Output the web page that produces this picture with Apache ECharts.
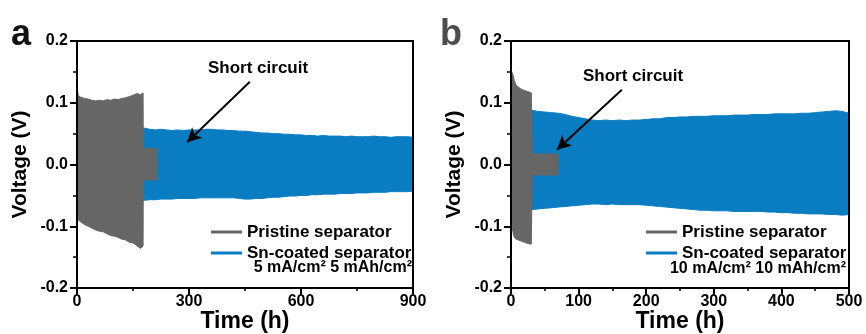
<!DOCTYPE html>
<html>
<head>
<meta charset="utf-8">
<script src="https://cdn.jsdelivr.net/npm/echarts@6/dist/echarts.min.js"></script>
<style>
  html, body { margin: 0; padding: 0; background: #fff; }
  #chart { width: 866px; height: 334px; }
</style>
</head>
<body>
<div id="chart"></div>
<script>
// panel a : 5 mA/cm2, 900 h
let timeSnA = [0, 15, 30, 45, 60, 75, 90, 105, 120, 135, 150, 165, 180, 195, 210, 225, 240, 255, 270, 285, 300,
  315, 330, 345, 360, 375, 390, 405, 420, 435, 450, 465, 480, 495, 510, 525, 540, 555, 570, 585, 600,
  615, 630, 645, 660, 675, 690, 705, 720, 735, 750, 765, 780, 795, 810, 825, 840, 855, 870, 885, 900];
let snUpperA = [0.062, 0.061, 0.060, 0.061, 0.060, 0.060, 0.061, 0.060, 0.060, 0.059, 0.060, 0.059, 0.059, 0.057, 0.056, 0.057, 0.056, 0.055, 0.056, 0.055, 0.056,
  0.056, 0.056, 0.057, 0.057, 0.056, 0.056, 0.055, 0.055, 0.054, 0.054, 0.053, 0.052, 0.051, 0.051, 0.050, 0.050, 0.049, 0.049, 0.048, 0.048,
  0.047, 0.047, 0.046, 0.047, 0.046, 0.046, 0.046, 0.045, 0.046, 0.045, 0.045, 0.045, 0.046, 0.045, 0.045, 0.044, 0.045, 0.045, 0.045, 0.044];
let snLowerA = [-0.060, -0.060, -0.060, -0.060, -0.060, -0.060, -0.060, -0.060, -0.060, -0.060, -0.060, -0.060, -0.058, -0.057, -0.057, -0.056, -0.056, -0.056, -0.055, -0.055, -0.055,
  -0.055, -0.054, -0.054, -0.054, -0.054, -0.054, -0.054, -0.054, -0.055, -0.056, -0.056, -0.055, -0.055, -0.054, -0.053, -0.053, -0.052, -0.051, -0.051, -0.050,
  -0.050, -0.049, -0.049, -0.048, -0.048, -0.048, -0.047, -0.047, -0.047, -0.046, -0.046, -0.046, -0.045, -0.045, -0.045, -0.044, -0.044, -0.044, -0.044, -0.043];
let timePrA = [0, 3, 10, 20, 30, 40, 50, 60, 70, 80, 90, 100, 110, 120, 130, 140, 150, 160, 170, 177, 177.5, 215];
let prUpperA = [0.130, 0.112, 0.109, 0.107, 0.106, 0.104, 0.103, 0.104, 0.103, 0.105, 0.104, 0.106, 0.105, 0.107, 0.108, 0.110, 0.112, 0.115, 0.113, 0.116, 0.026, 0.026];
let prLowerA = [-0.088, -0.090, -0.093, -0.097, -0.100, -0.103, -0.106, -0.108, -0.109, -0.112, -0.115, -0.116, -0.118, -0.121, -0.122, -0.126, -0.127, -0.131, -0.136, -0.132, -0.025, -0.025];

// panel b : 10 mA/cm2, 500 h
let timeSnB = [0, 10, 20, 30, 40, 50, 60, 70, 80, 90, 100, 110, 120, 130, 140, 150, 160, 170, 180, 190, 200,
  210, 220, 230, 240, 250, 260, 270, 280, 290, 300, 310, 320, 330, 340, 350, 360, 370, 380, 390, 400,
  410, 420, 430, 440, 450, 460, 470, 480, 490, 500];
let snUpperB = [0.090, 0.090, 0.089, 0.088, 0.086, 0.085, 0.084, 0.083, 0.081, 0.078, 0.076, 0.074, 0.072, 0.071, 0.072, 0.071, 0.072, 0.071, 0.072, 0.072, 0.073,
  0.074, 0.074, 0.076, 0.076, 0.077, 0.077, 0.078, 0.078, 0.078, 0.079, 0.079, 0.079, 0.080, 0.080, 0.080, 0.081, 0.081, 0.081, 0.082, 0.082,
  0.082, 0.082, 0.083, 0.083, 0.084, 0.085, 0.086, 0.087, 0.086, 0.083];
let snLowerB = [-0.075, -0.075, -0.074, -0.073, -0.072, -0.071, -0.070, -0.069, -0.068, -0.067, -0.066, -0.065, -0.064, -0.064, -0.065, -0.064, -0.065, -0.065, -0.065, -0.065, -0.066,
  -0.067, -0.068, -0.069, -0.070, -0.071, -0.072, -0.073, -0.074, -0.074, -0.075, -0.075, -0.075, -0.076, -0.076, -0.076, -0.076, -0.076, -0.077, -0.077, -0.078,
  -0.078, -0.079, -0.079, -0.080, -0.080, -0.080, -0.081, -0.081, -0.082, -0.081];
let timePrB = [0, 1, 3, 5, 8, 10, 15, 20, 25, 30, 31, 31.5, 70];
let prUpperB = [0.155, 0.150, 0.145, 0.135, 0.128, 0.125, 0.122, 0.120, 0.118, 0.116, 0.115, 0.017, 0.017];
let prLowerB = [-0.090, -0.095, -0.110, -0.118, -0.121, -0.122, -0.124, -0.126, -0.128, -0.129, -0.129, -0.017, -0.017];

// arrows "Short circuit" : [from, to] in data coords
let arrowA = [[463, 0.134], [295, 0.036]];
let arrowB = [[164, 0.121], [68, 0.024]];

let xMax = [900, 500];
let xStep = [300, 100];

const FONT = 'Arial, "Liberation Sans", sans-serif';
const GRAY = '#666666';
const BLUE = '#0a7dc2';

function pairs(xs, ys) {
  return xs.map((t, i) => [t, ys[i]]);
}

// upper and lower halves overlap a little around 0 so no seam shows
function areaSeries(name, color, idx, data, z, origin) {
  return {
    name: name,
    type: 'line',
    xAxisIndex: idx,
    yAxisIndex: idx,
    data: data,
    symbol: 'none',
    z: z,
    lineStyle: { color: color, width: 1 },
    itemStyle: { color: color },
    areaStyle: { color: color, opacity: 1, origin: origin },
  };
}

function arrowLine(arr) {
  return {
    silent: true,
    symbol: ['none', 'arrow'],
    symbolSize: [11, 14],
    label: { show: false },
    lineStyle: { color: '#000', width: 2, type: 'solid' },
    data: [[{ coord: arr[0] }, { coord: arr[1] }]],
  };
}

let myChart = echarts.init(document.getElementById('chart'));

let xAxes = [];
let yAxes = [];
[0, 1].forEach((g) => {
  xAxes.push({
    gridIndex: g,
    type: 'value',
    min: 0,
    max: xMax[g],
    interval: xStep[g],
    name: 'Time (h)',
    nameLocation: 'middle',
    nameGap: 22,
    nameMoveOverlap: false,
    nameTextStyle: { fontSize: 23, fontWeight: 'bold', color: '#000', fontFamily: FONT },
    axisLine: { onZero: false, lineStyle: { color: '#000', width: 2 } },
    axisTick: { inside: false, length: 6, lineStyle: { color: '#000', width: 2 } },
    minorTick: { show: true, splitNumber: 2, length: 3, lineStyle: { color: '#000', width: 1.5 } },
    splitLine: { show: false },
    axisLabel: { fontSize: 16, fontWeight: 'bold', color: '#000', fontFamily: FONT, margin: 6 },
    z: 10,
  });
  yAxes.push({
    gridIndex: g,
    type: 'value',
    min: -0.2,
    max: 0.2,
    interval: 0.1,
    name: 'Voltage (V)',
    nameLocation: 'middle',
    nameGap: 46,
    nameMoveOverlap: false,
    nameTextStyle: { fontSize: 21, fontWeight: 'bold', color: '#000', fontFamily: FONT },
    axisLine: { onZero: false, lineStyle: { color: '#000', width: 2 } },
    axisTick: { inside: false, length: 7, lineStyle: { color: '#000', width: 2 } },
    minorTick: { show: true, splitNumber: 2, length: 4, lineStyle: { color: '#000', width: 1.5 } },
    splitLine: { show: false },
    axisLabel: {
      fontSize: 16, fontWeight: 'bold', color: '#000', fontFamily: FONT, margin: 9,
      formatter: (v) => (Math.abs(v) < 1e-9 ? '0.0' : v.toFixed(1)),
    },
    z: 10,
  });
});
// frame lines on top and right
[0, 1].forEach((g) => {
  xAxes.push({
    gridIndex: g, type: 'value', position: 'top', min: 0, max: xMax[g],
    axisLine: { onZero: false, lineStyle: { color: '#000', width: 2 } },
    axisTick: { show: false }, axisLabel: { show: false }, splitLine: { show: false }, z: 10,
  });
  yAxes.push({
    gridIndex: g, type: 'value', position: 'right', min: -0.2, max: 0.2,
    axisLine: { onZero: false, lineStyle: { color: '#000', width: 2 } },
    axisTick: { show: false }, axisLabel: { show: false }, splitLine: { show: false }, z: 10,
  });
});

let series = [
  areaSeries('Sn-coated separator', BLUE, 0, pairs(timeSnA, snUpperA), 2, -0.01),
  areaSeries('Sn-coated separator', BLUE, 0, pairs(timeSnA, snLowerA), 2, 0.01),
  areaSeries('Pristine separator', GRAY, 0, pairs(timePrA, prUpperA), 3, -0.01),
  areaSeries('Pristine separator', GRAY, 0, pairs(timePrA, prLowerA), 3, 0.01),
  areaSeries('Sn-coated separator', BLUE, 1, pairs(timeSnB, snUpperB), 2, -0.01),
  areaSeries('Sn-coated separator', BLUE, 1, pairs(timeSnB, snLowerB), 2, 0.01),
  areaSeries('Pristine separator', GRAY, 1, pairs(timePrB, prUpperB), 3, -0.01),
  areaSeries('Pristine separator', GRAY, 1, pairs(timePrB, prLowerB), 3, 0.01),
];
series[3].markLine = arrowLine(arrowA);
series[7].markLine = arrowLine(arrowB);

function legendAt(left) {
  return {
    orient: 'vertical',
    left: left,
    top: 218,
    icon: 'rect',
    itemWidth: 31,
    itemHeight: 3,
    itemGap: 3,
    selectedMode: false,
    data: ['Pristine separator', 'Sn-coated separator'],
    textStyle: { fontSize: 17, fontWeight: 'bold', color: '#000', fontFamily: FONT, lineHeight: 18 },
  };
}

function label(x, y, text, size, align, color) {
  return {
    type: 'text',
    x: x,
    y: y,
    z: 20,
    style: {
      text: text,
      fontSize: size,
      fontWeight: 'bold',
      fontFamily: FONT,
      fill: color || '#000',
      align: align,
      verticalAlign: 'middle',
    },
  };
}

myChart.setOption({
  animation: false,
  backgroundColor: '#fff',
  grid: [
    { left: 77, right: 453, top: 41, bottom: 46, outerBoundsMode: 'none' },
    { left: 511, right: 17, top: 41, bottom: 46, outerBoundsMode: 'none' },
  ],
  xAxis: xAxes,
  yAxis: yAxes,
  legend: [legendAt(206), legendAt(641)],
  series: series,
  graphic: [
    label(11, 35, 'a', 36, 'left', '#111'),
    label(440, 35, 'b', 36, 'left', '#4d4d4d'),
    label(208, 68, 'Short circuit', 17, 'left'),
    label(583, 76, 'Short circuit', 17, 'left'),
    label(412, 268, '5 mA/cm² 5 mAh/cm²', 16, 'right'),
    label(846, 269, '10 mA/cm² 10 mAh/cm²', 16, 'right'),
  ],
});
window.addEventListener('resize', function () {
  myChart.resize();
});
</script>
</body>
</html>
